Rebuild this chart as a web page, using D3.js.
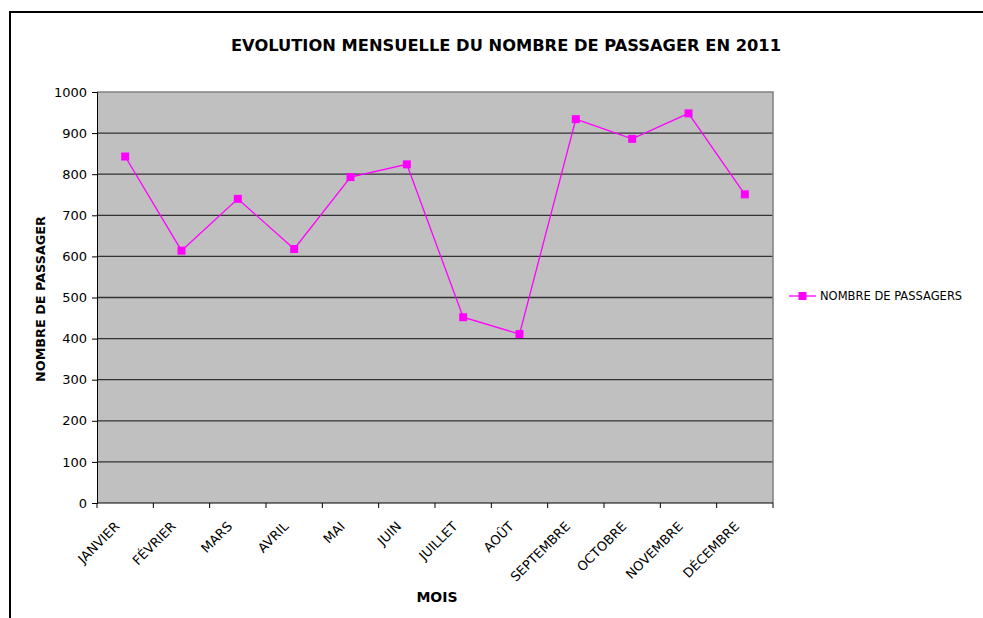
<!DOCTYPE html>
<html><head><meta charset="utf-8">
<script src="https://cdn.jsdelivr.net/npm/d3@7"></script>
<style>body{margin:0;background:#fff}svg{display:block}</style>
</head><body>
<svg id="c" width="983" height="618"></svg>
<script>
const months = ["JANVIER","FÉVRIER","MARS","AVRIL","MAI","JUIN","JUILLET","AOÛT","SEPTEMBRE","OCTOBRE","NOVEMBRE","DÉCEMBRE"];
const passagers = [843, 614, 740, 618, 793, 824, 452, 411, 934, 886, 948, 751];
const yTicks = [0,100,200,300,400,500,600,700,800,900,1000];
const title = "EVOLUTION MENSUELLE DU NOMBRE DE PASSAGER EN 2011";
const seriesName = "NOMBRE DE PASSAGERS";

const svg = d3.select("#c");
const font = "Verdana, 'DejaVu Sans', sans-serif";
const L = 97, R = 773, T = 92, B = 503;

// outer frame
svg.append("path").attr("d", `M10,618 L10,12 L990,12`).attr("fill","none").attr("stroke","#000").attr("stroke-width",2);

const x = d3.scaleBand().domain(months).range([L, R]);
const y = d3.scaleLinear().domain([0, 1000]).range([B, T]);

svg.append("rect").attr("x",L).attr("y",T).attr("width",R-L).attr("height",B-T).attr("fill","#C0C0C0");

// gridlines
svg.append("g").selectAll("line").data(yTicks.filter(d=>d>0 && d<1000)).join("line")
  .attr("x1",L).attr("x2",R).attr("y1",d=>y(d)).attr("y2",d=>y(d))
  .attr("stroke","#333").attr("stroke-width",1.3);
// top & right border
svg.append("path").attr("d",`M${L},${y(1000)} L${R},${y(1000)} L${R},${B}`).attr("fill","none").attr("stroke","#808080").attr("stroke-width",1.5);

// y axis
const yAxis = d3.axisLeft(y).tickValues(yTicks).tickFormat(d3.format("d")).tickSize(5).tickPadding(5);
const gy = svg.append("g").attr("transform",`translate(${L},0)`).call(yAxis);
gy.select(".domain").attr("stroke","#000");
gy.selectAll("text").attr("font-family",font).attr("font-size",13).attr("fill","#000");

// x axis
const gx = svg.append("g").attr("transform",`translate(0,${B})`);
gx.append("line").attr("x1",L).attr("x2",R).attr("stroke","#000");
const bounds = months.map(m=>x(m)).concat([R]);
gx.selectAll("line.t").data(bounds).join("line").attr("class","t")
  .attr("x1",d=>d).attr("x2",d=>d).attr("y1",0).attr("y2",5).attr("stroke","#000");
gx.selectAll("text").data(months).join("text")
  .attr("transform",d=>`translate(${x(d)+x.bandwidth()/2-8},21) rotate(-45)`)
  .attr("text-anchor","end").attr("dy","0.35em")
  .attr("font-family",font).attr("font-size",13).attr("fill","#000").text(d=>d);

// line
const cx = d => x(d)+x.bandwidth()/2;
svg.append("path").datum(passagers)
  .attr("d", d3.line().x((d,i)=>cx(months[i])).y(d=>y(d)))
  .attr("fill","none").attr("stroke","#FF00FF").attr("stroke-width",1.3);
svg.append("g").selectAll("rect").data(passagers).join("rect")
  .attr("x",(d,i)=>cx(months[i])-4).attr("y",d=>y(d)-4).attr("width",8).attr("height",8)
  .attr("fill","#FF00FF");

// title
svg.append("text").attr("x",506).attr("y",51).attr("text-anchor","middle")
  .attr("font-family",font).attr("font-weight","bold").attr("font-size",16.3).text(title);
// axis titles
svg.append("text").attr("transform",`translate(45,299) rotate(-90)`).attr("text-anchor","middle")
  .attr("font-family",font).attr("font-weight","bold").attr("font-size",12.8).text("NOMBRE DE PASSAGER");
svg.append("text").attr("x",437).attr("y",602).attr("text-anchor","middle")
  .attr("font-family",font).attr("font-weight","bold").attr("font-size",14).text("MOIS");

// legend
const lg = svg.append("g").attr("transform","translate(789,296)");
lg.append("line").attr("x1",0).attr("x2",27).attr("stroke","#FF00FF").attr("stroke-width",1.3);
lg.append("rect").attr("x",9.5).attr("y",-4).attr("width",8).attr("height",8).attr("fill","#FF00FF");
lg.append("text").attr("x",31).attr("dy","0.35em").attr("font-family",font).attr("font-size",11.5).text(seriesName);
</script>
</body></html>
